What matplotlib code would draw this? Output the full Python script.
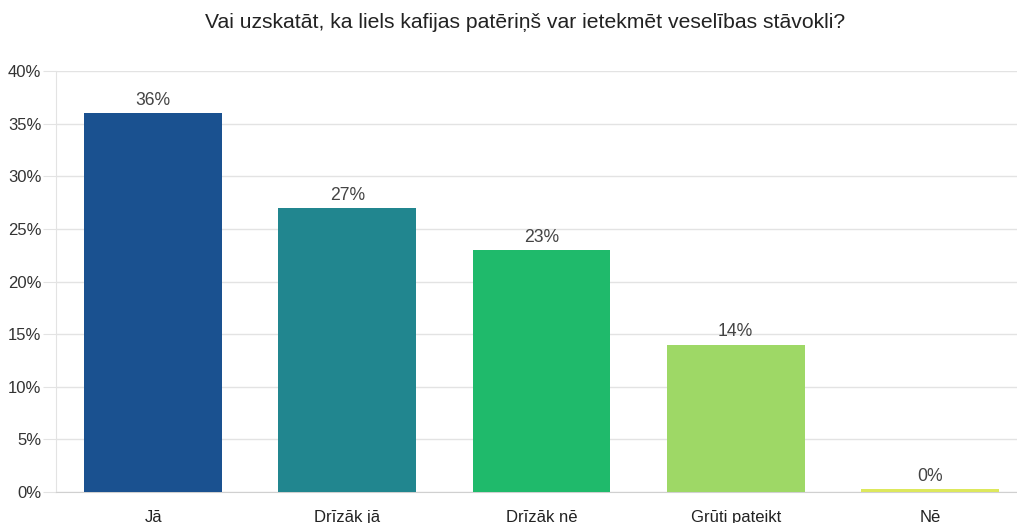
import matplotlib.pyplot as plt
from matplotlib.ticker import FuncFormatter

plt.rcParams['font.family'] = ['Liberation Sans', 'DejaVu Sans']

# dati
atbildes = ["Jā", "Drīzāk jā", "Drīzāk nē", "Grūti pateikt", "Nē"]
procenti = [36, 27, 23, 14, 0.25]
krasas = ["#1a5190", "#21868f", "#1fba6b", "#9ed866", "#dde85c"]

fig = plt.figure(figsize=(10.17, 5.23), dpi=100)
ax = fig.add_axes([56 / 1017, 31 / 523, 971 / 1017, 421 / 523])

x = range(len(atbildes))
bars = ax.bar(x, procenti, width=0.71, color=krasas, zorder=3)

for b, v in zip(bars, procenti):
    ax.annotate(f"{round(v)}%", (b.get_x() + b.get_width() / 2, b.get_height()),
                xytext=(0, 3), textcoords="offset points", ha="center", va="bottom",
                fontsize=12.7, color="#444444")

ax.set_xlim(-0.5, len(atbildes) - 0.5)
ax.set_ylim(0, 40)
ax.set_yticks(range(0, 41, 5))
ax.yaxis.set_major_formatter(FuncFormatter(lambda v, p: f"{int(v)}%"))
ax.set_xticks(list(x))
ax.set_xticklabels(atbildes)
ax.grid(axis="y", color="#e3e3e3", linewidth=1, zorder=0)

for s in ["top", "right"]:
    ax.spines[s].set_visible(False)
ax.spines["left"].set_color("#e3e3e3")
ax.spines["bottom"].set_color("#d0d0d0")
ax.tick_params(axis="y", length=9.5, color="#e3e3e3", labelsize=12, labelcolor="#333333", pad=1)
ax.tick_params(axis="x", length=0, labelsize=12, labelcolor="#222222", pad=13)

fig.text(525 / 1017, 1 - 22 / 523, "Vai uzskatāt, ka liels kafijas patēriņš var ietekmēt veselības stāvokli?",
         ha="center", va="center", fontsize=15.2, color="#222222")

fig.savefig("out.png", dpi=100)
